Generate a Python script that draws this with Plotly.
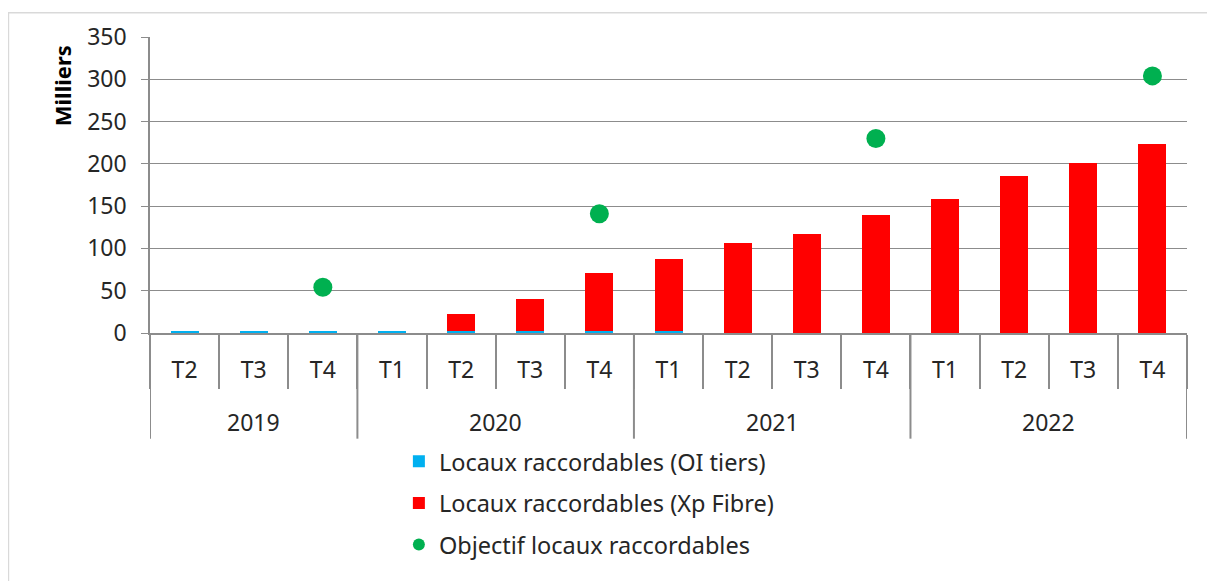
import plotly.graph_objects as go

years = ["2019", "2020", "2021", "2022"]
year_sizes = [3, 4, 4, 4]
quarters = ["T2", "T3", "T4", "T1", "T2", "T3", "T4",
            "T1", "T2", "T3", "T4", "T1", "T2", "T3", "T4"]
oi_tiers = [2, 2, 2, 2, 2, 2, 2, 2, 0, 0, 0, 0, 0, 0, 0]
xp_fibre = [0, 0, 0, 0, 21, 38, 69, 85, 106, 117, 140, 158, 186, 201, 224]
objectif = [None, None, 54, None, None, None, 141, None, None, None, 230,
            None, None, None, 304]

xs = list(range(len(quarters)))
grey = "#8c8c8c"
txt = "#262626"
font = "Noto Sans, Liberation Sans, sans-serif"

fig = go.Figure()
fig.add_trace(go.Bar(x=xs, y=oi_tiers, name="Locaux raccordables (OI tiers)",
                     width=0.405, legendgroup="a",
                     marker=dict(color="#00B0F0", line=dict(width=0))))
fig.add_trace(go.Bar(x=xs, y=xp_fibre, name="Locaux raccordables (Xp Fibre)",
                     width=0.405, legendgroup="b",
                     marker=dict(color="#FF0000", line=dict(width=0))))
fig.add_trace(go.Scatter(x=xs, y=objectif, mode="markers", legendgroup="c",
                         name="Objectif locaux raccordables",
                         marker=dict(color="#00B050", size=19)))

fig.update_layout(
    width=1215, height=581,
    barmode="stack",
    paper_bgcolor="white", plot_bgcolor="white",
    margin=dict(l=142, r=36, t=25, b=256),
    font=dict(family=font, size=22, color=txt),
    legend=dict(orientation="v", x=0.240, xanchor="left", y=-0.36, yanchor="top",
                font=dict(size=23.5, color=txt), traceorder="grouped",
                tracegroupgap=8, itemsizing="constant"),
    showlegend=True,
)
fig.update_yaxes(range=[0, 350], dtick=50, showgrid=True, gridcolor=grey, gridwidth=1.3,
                 showline=True, linecolor=grey, linewidth=1.5, ticks="outside",
                 ticklen=7, tickcolor=grey, tickwidth=1.3, zeroline=False,
                 ticklabelstandoff=10, tickfont=dict(size=23))
fig.update_xaxes(range=[-0.5, len(quarters) - 0.5], tickmode="array", tickvals=xs,
                 ticktext=quarters, ticks="", showline=True, linecolor=grey,
                 linewidth=2, showgrid=False, zeroline=False, ticklabelstandoff=15,
                 tickfont=dict(size=23),
                 minor=dict(tick0=0.5, dtick=1, ticks="outside", ticklen=54,
                            tickcolor=grey, tickwidth=2, showgrid=False))

# year group labels and dividers
start = 0
for yr, n in zip(years, year_sizes):
    fig.add_annotation(x=start + (n - 1) / 2, y=-0.3, xref="x", yref="paper",
                       xanchor="center", yanchor="middle",
                       text=yr, showarrow=False, font=dict(size=23, color=txt))
    fig.add_shape(type="line", xref="x", yref="paper", x0=start - 0.5, x1=start - 0.5,
                  y0=0, y1=-0.357, line=dict(color=grey, width=2))
    start += n
fig.add_shape(type="line", xref="x", yref="paper", x0=start - 0.5, x1=start - 0.5,
              y0=0, y1=-0.357, line=dict(color=grey, width=2))

fig.add_annotation(x=-0.0849, y=0.837, xref="paper", yref="paper", text="<b>Milliers</b>",
                   xanchor="center", yanchor="middle",
                   textangle=-90, showarrow=False, font=dict(size=22, color="black"))

fig.add_shape(type="rect", xref="paper", yref="paper", x0=-0.1365, x1=1.1,
              y0=-0.9, y1=1.0817, line=dict(color="#d9d9d9", width=1.5))

fig.write_html("out.html")
